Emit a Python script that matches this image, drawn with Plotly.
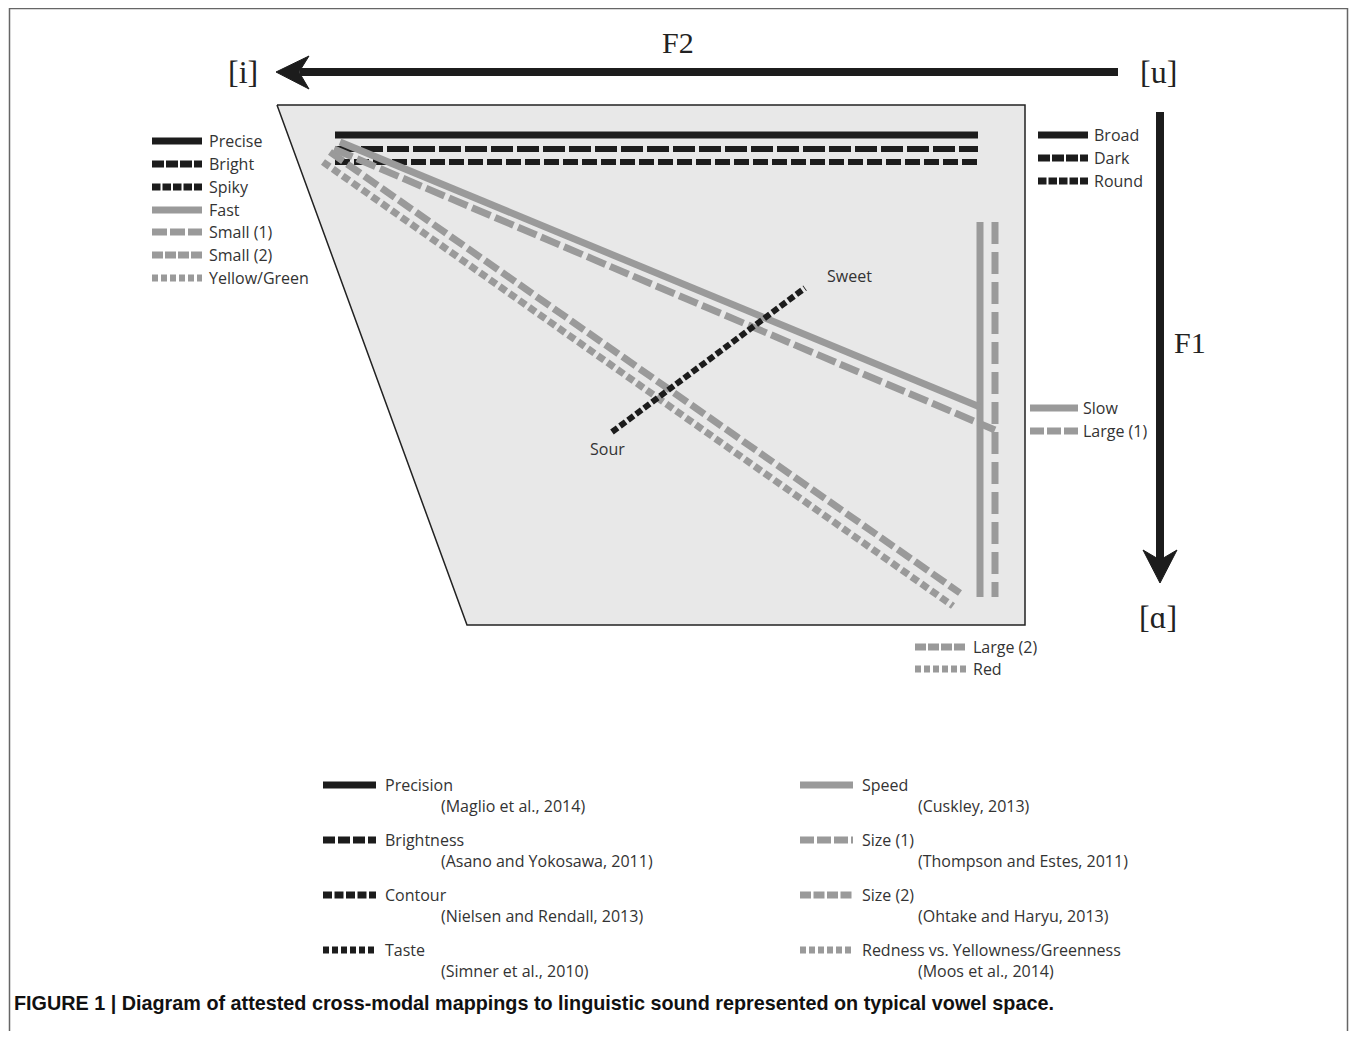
import plotly.graph_objects as go

W, H = 1357, 1039
PAGE_MARGIN = 8  # default body margin of the page around the figure
BLACK = "#1c1c1c"
GREY = "#9a9a9a"
FILL = "#e8e8e8"
TEXT = "#333333"
SANS = "Open Sans"
SERIF = "Liberation Serif"

# ---------------- data ----------------
# vowel space (trapezoid) corners
space_x = [277, 1025, 1025, 467, 277]
space_y = [105, 105, 625, 625, 105]

# horizontal front/back mappings
horiz_names = ["Precision", "Brightness", "Contour"]
horiz_y = [135, 149, 162]
horiz_x0 = [335, 335, 335]
horiz_x1 = [978, 978, 978]
horiz_dash = ["solid", "22px,4px", "15px,4px"]
horiz_width = [7, 6, 6]

# grey diagonal / vertical mappings
diag_names = ["Speed", "Size (1)", "Size (2)", "Redness", "Slow", "Large (1)"]
diag_x0 = [340, 334, 330, 323, 980, 995]
diag_y0 = [142, 149, 152, 162, 222, 222]
diag_x1 = [980, 995, 960, 953, 980, 995]
diag_y1 = [407, 430, 593, 606, 597, 597]
diag_dash = ["solid", "20px,5px", "16px,5px", "8px,4px", "solid", "22px,8px"]

# taste (Sour -> Sweet)
taste_x = [612, 805]
taste_y = [432, 288]

# axis arrows
f2_x = [1118, 300]
f2_y = [72, 72]
f2_head_x = [276, 309, 299, 309, 276]
f2_head_y = [72, 56, 72, 89, 72]
f1_x = [1160, 1160]
f1_y = [112, 560]
f1_head_x = [1160, 1143, 1160, 1177, 1160]
f1_head_y = [583, 550, 560, 550, 583]

# in-diagram legends
left_labels = ["Precise", "Bright", "Spiky", "Fast", "Small (1)", "Small (2)", "Yellow/Green"]
left_y = [141, 164, 187, 210, 232, 255, 278]
left_col = [BLACK, BLACK, BLACK, GREY, GREY, GREY, GREY]
left_dash = ["solid", "12px,2px", "8.5px,2px", "solid", "15px,3px", "11px,2px", "6px,3px"]

right_labels = ["Broad", "Dark", "Round"]
right_y = [135, 158, 181]
right_col = [BLACK, BLACK, BLACK]
right_dash = ["solid", "12px,2px", "8.5px,2px"]

mid_labels = ["Slow", "Large (1)"]
mid_y = [408, 431]
mid_col = [GREY, GREY]
mid_dash = ["solid", "14px,3px"]

low_labels = ["Large (2)", "Red"]
low_y = [647, 669]
low_col = [GREY, GREY]
low_dash = ["11px,2px", "6px,3px"]

# bottom key
key_left_names = ["Precision", "Brightness", "Contour", "Taste"]
key_left_cites = ["(Maglio et al., 2014)", "(Asano and Yokosawa, 2011)",
                  "(Nielsen and Rendall, 2013)", "(Simner et al., 2010)"]
key_left_col = [BLACK, BLACK, BLACK, BLACK]
key_left_dash = ["solid", "12px,3px", "9px,2.5px", "6px,3px"]
key_right_names = ["Speed", "Size (1)", "Size (2)", "Redness vs. Yellowness/Greenness"]
key_right_cites = ["(Cuskley, 2013)", "(Thompson and Estes, 2011)",
                   "(Ohtake and Haryu, 2013)", "(Moos et al., 2014)"]
key_right_col = [GREY, GREY, GREY, GREY]
key_right_dash = ["solid", "14px,3px", "11px,2.5px", "6px,3px"]
key_y = [785, 840, 895, 950]
cite_y = [806, 861, 916, 971]

caption = ("FIGURE 1 | Diagram of attested cross-modal mappings to linguistic "
           "sound represented on typical vowel space.")

# ---------------- figure ----------------
fig = go.Figure()


def seg(x, y, color, width, dash="solid"):
    fig.add_trace(go.Scatter(x=x, y=y, mode="lines", hoverinfo="skip",
                             line=dict(color=color, width=width, dash=dash)))


def txt(x, y, s, size=16, font=SANS, color=TEXT, anchor="left", bold=False):
    fig.add_annotation(x=x, y=y, xref="x", yref="y", text=("<b>%s</b>" % s) if bold else s,
                       showarrow=False, xanchor=anchor, yanchor="middle",
                       font=dict(family=font, size=size, color=color))


# outer frame
seg([9.5, 9.5, 1347.5, 1347.5], [1039, 8.5, 8.5, 1039], "#666666", 1.5)

# vowel space
fig.add_trace(go.Scatter(x=space_x, y=space_y, mode="lines", fill="toself",
                         fillcolor=FILL, line=dict(color="#222222", width=1.5),
                         hoverinfo="skip"))

# horizontal black mappings
for i in range(len(horiz_names)):
    seg([horiz_x0[i], horiz_x1[i]], [horiz_y[i], horiz_y[i]], BLACK,
        horiz_width[i], horiz_dash[i])

# grey mappings (draw verticals first)
for i in [4, 5, 3, 2, 1, 0]:
    seg([diag_x0[i], diag_x1[i]], [diag_y0[i], diag_y1[i]], GREY, 7, diag_dash[i])

# taste
seg(taste_x, taste_y, BLACK, 6, "7px,3px")
txt(taste_x[1] + 20, taste_y[1] - 12, "Sweet", 16)
txt(taste_x[0] - 5, taste_y[0] + 17, "Sour", 16, anchor="center")

# arrows
seg(f2_x, f2_y, BLACK, 8)
fig.add_trace(go.Scatter(x=f2_head_x, y=f2_head_y, mode="lines", fill="toself",
                         fillcolor=BLACK, line=dict(color=BLACK, width=1), hoverinfo="skip"))
seg(f1_x, f1_y, BLACK, 8)
fig.add_trace(go.Scatter(x=f1_head_x, y=f1_head_y, mode="lines", fill="toself",
                         fillcolor=BLACK, line=dict(color=BLACK, width=1), hoverinfo="skip"))
txt(678, 42, "F2", 30, SERIF, "#222222", "center")
txt(1190, 342, "F1", 30, SERIF, "#222222", "center")
txt(243, 72, "[i]", 32, SERIF, "#222222", "center")
txt(1158, 72, "[u]", 32, SERIF, "#222222", "center")
txt(1158, 617, "[ɑ]", 32, SERIF, "#222222", "center")


def legend_block(labels, ys, cols, dashes, x0, x1, xt, size=16):
    for lab, y, c, d in zip(labels, ys, cols, dashes):
        seg([x0, x1], [y, y], c, 7, d)
        txt(xt, y, lab, size)


legend_block(left_labels, left_y, left_col, left_dash, 152, 202, 207)
legend_block(right_labels, right_y, right_col, right_dash, 1038, 1088, 1092)
legend_block(mid_labels, mid_y, mid_col, mid_dash, 1030, 1078, 1081)
legend_block(low_labels, low_y, low_col, low_dash, 915, 966, 971)

# bottom key
legend_block(key_left_names, key_y, key_left_col, key_left_dash, 323, 376, 383)
legend_block(key_right_names, key_y, key_right_col, key_right_dash, 800, 853, 860)
for c, y in zip(key_left_cites, cite_y):
    txt(439, y, c, 16)
for c, y in zip(key_right_cites, cite_y):
    txt(916, y, c, 16)

# caption
txt(12, 1003, caption, 19.8, "Liberation Sans", "#111111", bold=True)

# figure sized to the window minus the page margin; axes offset so that
# data units line up with window pixels
FW, FH = W - 2 * PAGE_MARGIN, H - 2 * PAGE_MARGIN
fig.update_layout(
    width=FW, height=FH, margin=dict(l=0, r=0, t=0, b=0),
    paper_bgcolor="white", plot_bgcolor="white", showlegend=False,
    xaxis=dict(range=[PAGE_MARGIN, PAGE_MARGIN + FW], visible=False, fixedrange=True),
    yaxis=dict(range=[PAGE_MARGIN + FH, PAGE_MARGIN], visible=False, fixedrange=True),
)
fig.write_html("out.html")
